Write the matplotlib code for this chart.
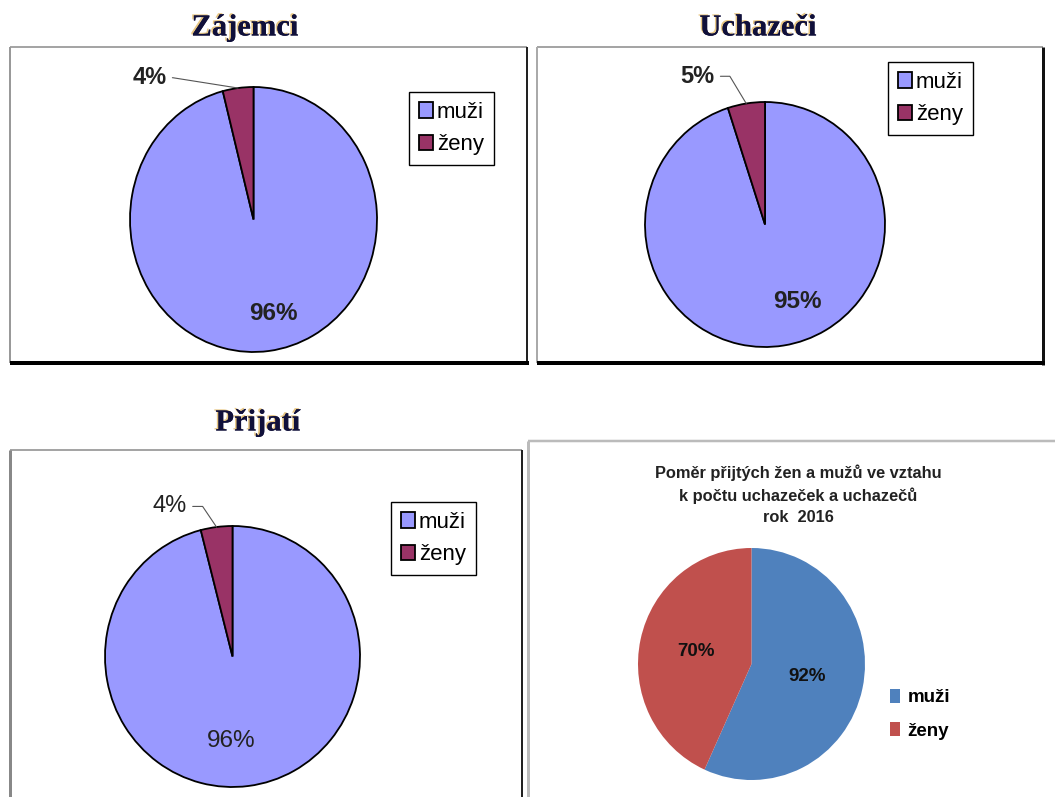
import numpy as np
import matplotlib
matplotlib.use("Agg")
import matplotlib.pyplot as plt
import matplotlib.patheffects as pe

plt.rcParams['font.family'] = ['Liberation Sans', 'DejaVu Sans']

# data
names = ['muži', 'ženy']
zajemci = [96, 4]
uchazeci = [95, 5]
prijati = [96, 4]
pomer = [92, 70]          # labels show the raw values
pomer_labels = ['92%', '70%']

titles = ['Zájemci', 'Uchazeči', 'Přijatí']
title4 = 'Poměr přijtých žen a mužů ve vztahu\nk počtu uchazeček a uchazečů\nrok  2016'

old_colors = ['#9999ff', '#993366']
new_colors = ['#4f81bd', '#c0504d']

W, H = 1055, 797
fig = plt.figure(figsize=(W / 100, H / 100), dpi=100)
bg = fig.add_axes([0, 0, 1, 1], zorder=0)
bg.set_xlim(0, W)
bg.set_ylim(H, 0)
bg.axis('off')


def line(xs, ys, color, lw):
    bg.plot(xs, ys, color=color, lw=lw * 0.72, solid_capstyle='butt')


# frames (pixel coords)
line([10, 527], [47, 47], '#888888', 1.5)
line([10, 10], [47, 363], '#999999', 2)
line([527, 527], [47, 363], '#222222', 2)
line([10, 529], [363, 363], '#000000', 4)

line([537, 1043], [47, 47], '#888888', 1.5)
line([537, 537], [47, 363], '#aaaaaa', 2)
line([1043, 1043], [47, 365], '#111111', 3)
line([537, 1045], [363, 363], '#000000', 4)

line([10, 522], [450, 450], '#888888', 1.5)
line([10, 10], [450, 797], '#888888', 3)
line([522, 522], [450, 797], '#222222', 2)

line([528, 1055], [441, 441], '#bbbbbb', 2.5)
line([528, 528], [441, 797], '#bbbbbb', 3)


def pie_axes(x0, x1, y0, y1):
    ax = fig.add_axes([x0 / W, 1 - y1 / H, (x1 - x0) / W, (y1 - y0) / H], zorder=2)
    return ax


def old_pie(ax, vals, small_pos, big_pos, bold, angB):
    wedges, _ = ax.pie(vals, colors=old_colors, startangle=90, counterclock=False,
                       wedgeprops=dict(edgecolor='black', linewidth=1.3))
    ax.set_aspect('auto')
    ax.set_xlim(-1, 1)
    ax.set_ylim(-1, 1)
    w = wedges[1]
    mid = np.deg2rad((w.theta1 + w.theta2) / 2)
    fw = 'bold' if bold else 'normal'
    ax.annotate(f'{vals[1]}%', xy=(np.cos(mid), np.sin(mid)), xytext=small_pos,
                ha='center', va='center', fontsize=17, fontweight=fw, color='#222222',
                annotation_clip=False,
                arrowprops=dict(arrowstyle='-', color='#555555', lw=0.8, shrinkA=2, shrinkB=0,
                                connectionstyle=f'angle,angleA=0,angleB={angB},rad=0'))
    ax.text(big_pos[0], big_pos[1], f'{vals[0]}%', ha='center', va='center',
            fontsize=17.5, fontweight=fw, color='#222222')
    return wedges


ax1 = pie_axes(130, 377, 87, 352)
w1 = old_pie(ax1, zajemci, (-0.84, 1.07), (0.16, -0.71), True, -9)
ax2 = pie_axes(645, 885, 102, 347)
w2 = old_pie(ax2, uchazeci, (-0.56, 1.21), (0.27, -0.63), True, -59)
ax3 = pie_axes(105, 360, 526, 787)
w3 = old_pie(ax3, prijati, (-0.49, 1.15), (-0.01, -0.65), False, -56)

# titles
shadow = [pe.withSimplePatchShadow(offset=(-1.2, 0.8), shadow_rgbFace='#d8a030', alpha=0.6), pe.Normal()]
for t, (x, y) in zip(titles, [(245, 28), (758, 28), (258, 423)]):
    bg.text(x, y, t, ha='center', va='center', fontsize=22, fontweight='bold',
            family='Liberation Serif', color='#10103a', path_effects=shadow)

# legends for old style pies
for ax, w, (x, y) in zip([ax1, ax2, ax3], [w1, w2, w3], [(409, 92), (888, 62), (391, 502)]):
    leg = ax.legend(w, names, loc='upper left', bbox_to_anchor=(x, y),
                    bbox_transform=bg.transData, borderaxespad=0, fancybox=False,
                    fontsize=16, handlelength=0.65, handleheight=0.7, handletextpad=0.15,
                    labelspacing=0.5, borderpad=0.45, edgecolor='black', framealpha=1)
    leg.get_frame().set_linewidth(1.0)

# fourth pie
ax4 = pie_axes(638, 865, 548, 780)
w4, _ = ax4.pie(pomer, colors=new_colors, startangle=90, counterclock=False,
                labels=pomer_labels, labeldistance=0.5,
                textprops=dict(fontsize=13.5, fontweight='bold', color='#111111',
                               ha='center', va='center'),
                wedgeprops=dict(linewidth=0))
ax4.set_aspect('auto')
ax4.set_xlim(-1, 1)
ax4.set_ylim(-1, 1)
ax4.legend(w4, names, loc='upper left', bbox_to_anchor=(882, 681), bbox_transform=bg.transData,
           borderaxespad=0, frameon=False, handlelength=0.55, handleheight=0.8,
           handletextpad=0.4, labelspacing=0.85,
           prop=dict(size=13.5, weight='bold'))

bg.text(798, 495, title4, ha='center', va='center', fontsize=11.8, fontweight='bold',
        color='#222222', linespacing=1.5)

fig.savefig('out.png', dpi=100)
